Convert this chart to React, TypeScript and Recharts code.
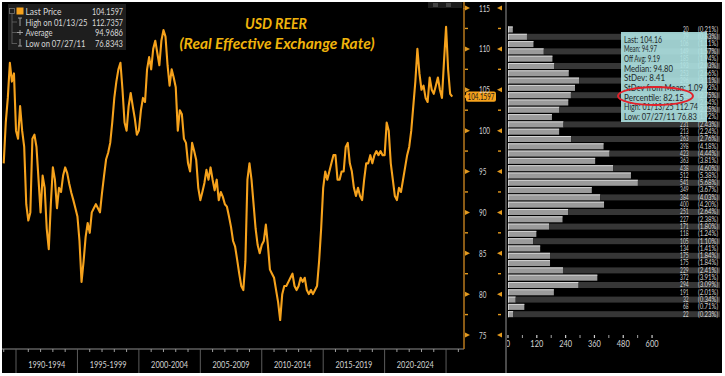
import React from 'react';
import { ComposedChart, Line, XAxis, YAxis, ReferenceLine, BarChart, Bar } from 'recharts';

const FONT = 'Lato, "DejaVu Sans", sans-serif';

// ---------- USD REER series: 6 readings a year (Jan, Mar, May, Jul, Sep, Nov) ----------
const FIRST_YEAR = 1989;
const READINGS_PER_YEAR = 6;
const reer1989to1994 = [
  96, 101, 104, 108.3, 106, 107,
  100, 99, 103, 100, 98, 91,
  89, 90, 99, 99.5, 98, 94,
  90, 94.5, 93, 88, 85.5, 91,
  95.5, 94, 90.5, 93, 92.5, 94.5,
  95.5, 94.8, 93.5, 92.4, 91.5, 90.5,
];
const reer1995to1999 = [
  89.5, 86.5, 81.5, 84, 87, 88.7,
  87.5, 90, 90.5, 91, 90.5, 90,
  92.4, 94.5, 96.5, 97.3, 98.5, 101,
  104, 106, 107.5, 108.3, 105, 101,
  100, 103, 104.6, 103, 101.5, 99.5,
];
const reer2000to2004 = [
  100, 102.5, 104, 103.5, 107.5, 109,
  107.5, 110, 111, 109.5, 108, 111,
  112.3, 111.5, 108, 105.5, 107.5, 106.5,
  105.3, 100, 102.5, 102, 99, 98.5,
  96, 95, 98.5, 97.5, 96.4, 93,
];
const reer2005to2009 = [
  91.5, 92.5, 93.6, 95.2, 94, 95.5,
  94, 92.7, 94, 91.5, 92.5, 91.9,
  91, 90.7, 89.5, 88.2, 86.5, 85.8,
  84.2, 82.5, 81, 80.5, 84, 94,
  96, 94, 91, 88, 86, 85,
];
const reer2010to2014 = [
  86, 86.5, 88.5, 86, 83, 82.5,
  82, 80.5, 79, 76.83, 80, 81,
  81, 81.5, 82, 82.5, 81, 80.5,
  81, 82, 81.5, 82, 80.5, 80,
  80.5, 80, 80.5, 81, 84, 88,
];
const reer2015to2019 = [
  93, 95, 94, 95, 96, 97,
  97, 94, 94, 95, 95, 98,
  98.5, 96, 95, 93, 92, 93,
  92, 91.5, 94, 96, 96, 97,
  96, 97, 97.5, 97, 97.5, 97,
];
const reer2020to2025 = [
  97, 101, 100, 96, 94, 92,
  91.5, 93, 92.5, 94, 95.5, 97,
  98, 100, 103, 106, 110, 107,
  105, 105.5, 104, 103.5, 106.5, 105,
  104.5, 105.5, 106.5, 105, 104, 108.5,
  112.7, 107.5, 104.5, 104.1597,
];
const reerValues = [
  ...reer1989to1994, ...reer1995to1999, ...reer2000to2004, ...reer2005to2009,
  ...reer2010to2014, ...reer2015to2019, ...reer2020to2025,
];
const LAST_PRICE = 104.1597;

// ---------- axis labels ----------
const periodStarts = [1990, 1995, 2000, 2005, 2010, 2015, 2020];
const periodLabels = ['1990-1994', '1995-1999', '2000-2004', '2005-2009', '2010-2014', '2015-2019', '2020-2024'];
const yearTicks = [
  1989, 1990, 1991, 1992, 1993, 1994, 1995, 1996, 1997, 1998, 1999, 2000, 2001, 2002, 2003,
  2004, 2005, 2006, 2007, 2008, 2009, 2010, 2011, 2012, 2013, 2014, 2015, 2016, 2017, 2018,
  2019, 2020, 2021, 2022, 2023, 2024, 2025, 2026,
];
const priceTicks = [75, 77.5, 80, 82.5, 85, 87.5, 90, 92.5, 95, 97.5, 100, 102.5, 105, 107.5, 110, 112.5, 115];
const histTicks = [0, 60, 120, 180, 240, 300, 360, 420, 480, 540, 600];

// ---------- histogram (40 bins, highest price first) ----------
const histCounts = [
  20, 79, 106, 149, 185, 193, 253, 296, 279, 262,
  251, 214, 183, 231, 213, 263, 398, 423, 363, 438,
  512, 541, 349, 384, 400, 251, 227, 171, 118, 105,
  134, 175, 175, 229, 372, 294, 191, 32, 68, 22,
];
const histPcts = [
  '0.21', '0.83', '1.11', '1.57', '1.94', '2.03', '2.66', '3.11', '2.93', '2.75',
  '2.64', '2.25', '1.92', '2.43', '2.24', '2.76', '4.18', '4.44', '3.81', '4.60',
  '5.38', '5.68', '3.67', '4.03', '4.20', '2.64', '2.38', '1.80', '1.24', '1.10',
  '1.41', '1.84', '1.84', '2.41', '3.91', '3.09', '2.01', '0.34', '0.71', '0.23',
];

// ---------- legend & statistics texts ----------
const legendLabels = ['Last Price', 'High on 01/13/25', 'Average', 'Low on 07/27/11'];
const legendValues = ['104.1597', '112.7357', '94.9686', '76.8343'];
const statsLines = [
  'Last: 104.16', 'Mean: 94.97', 'Off Avg: 9.19', 'Median: 94.80', 'StDev: 8.41',
  'StDev from Mean: 1.09', 'Percentile: 82.15', 'High: 01/13/25 112.74', 'Low: 07/27/11 76.83',
];
const titleLines = ['USD REER', '(Real Effective Exchange Rate)'];

// ---------- layout / style constants ----------
const X_DOMAIN: [number, number] = [1988.86, 2026.46];
const Y_DOMAIN: [number, number] = [73.29, 115];
const HIST_MAX = 883;
const LINE_COLOR = '#f6a21c';
const AXIS_ORANGE = '#e39a1f';
const LABEL = '#d2d2d2';
const legendLabelW = [36, 62, 27, 60];
const legendValueW = [31, 31, 28, 28];
const statsW = [38, 33, 36, 49, 41, 79, 60, 74, 73];

const lineData = reerValues.map((v, i) => ({ t: FIRST_YEAR + i / READINGS_PER_YEAR, v }));
const xTicks = [...yearTicks, ...periodStarts.map((s) => s + 2.5)].sort((a, b) => a - b);
const histData = histCounts.map((c, i) => ({
  row: i + 1,
  count: c,
  pct: histPcts[i],
  rest: HIST_MAX - c,
}));

const XTick = (p: any) => {
  const { x, y, payload } = p;
  const v = payload.value;
  if (Number.isInteger(v)) {
    if (v % 5 === 0) return <line x1={x} x2={x} y1={y} y2={y + 26} stroke="#5c5c5c" strokeWidth={1} />;
    return <line x1={x} x2={x} y1={y} y2={y + 3} stroke="#9c9c9c" strokeWidth={1} />;
  }
  const idx = periodStarts.indexOf(v - 2.5);
  return (
    <text x={x} y={y + 19} textAnchor="middle" fill={LABEL} fontSize={10} fontFamily={FONT}
      textLength={37} lengthAdjust="spacingAndGlyphs">{periodLabels[idx]}</text>
  );
};

const YTick = (p: any) => {
  const { x, y, payload } = p;
  const v = payload.value;
  if (v % 5 !== 0) {
    return (
      <g>
        <line x1={x + 1} x2={x + 4} y1={y} y2={y} stroke={AXIS_ORANGE} strokeWidth={1.4} />
        <line x1={x + 34} x2={x + 37} y1={y} y2={y} stroke={AXIS_ORANGE} strokeWidth={1.4} />
      </g>
    );
  }
  const s = String(v);
  return (
    <g>
      <polygon points={`${x + 1},${y - 2.5} ${x + 6},${y} ${x + 1},${y + 2.5}`} fill={AXIS_ORANGE} />
      <text x={x + 15} y={y + 3.6} fill={LABEL} fontSize={10} fontFamily={FONT}
        textLength={s.length === 3 ? 11 : 7.4} lengthAdjust="spacingAndGlyphs">{s}</text>
      <polygon points={`${x + 38},${y - 2.5} ${x + 33},${y} ${x + 38},${y + 2.5}`} fill={AXIS_ORANGE} />
    </g>
  );
};

const HTick = (p: any) => {
  const { x, y, payload } = p;
  const v = payload.value;
  const major = v % 120 === 0;
  const s = String(v);
  return (
    <g>
      <line x1={x} x2={x} y1={y + 17} y2={y + 20} stroke="#cfcfcf" strokeWidth={major ? 1.2 : 0.8} />
      {major && (
        <text x={x} y={y + 29} textAnchor="middle" fill={LABEL} fontSize={10} fontFamily={FONT}
          textLength={s.length * 4.3} lengthAdjust="spacingAndGlyphs">{s}</text>
      )}
    </g>
  );
};

const LastTag = (p: any) => {
  const vb = p.viewBox || {};
  const tx = (vb.x ?? 0) + (vb.width ?? 0) + 2;
  const ty = vb.y ?? 0;
  return (
    <g>
      <polygon points={`${tx - 2},${ty} ${tx + 2},${ty - 4} ${tx + 2},${ty + 4}`} fill={LINE_COLOR} />
      <rect x={tx} y={ty - 5.2} width={30} height={10.4} rx={2} fill={LINE_COLOR} />
      <text x={tx + 15} y={ty + 3.4} textAnchor="middle" fill="#1a1a1a" fontSize={9.5} fontFamily={FONT}
        textLength={27} lengthAdjust="spacingAndGlyphs">{LAST_PRICE.toFixed(4)}</text>
    </g>
  );
};

const CountBar = (p: any) => {
  const { x, y, width, height } = p;
  const w = Math.max(width, 0);
  return (
    <g>
      <rect x={x} y={y} width={w} height={height} fill="#9b9b9b" />
      <line x1={x} x2={x + w} y1={y + 0.5} y2={y + 0.5} stroke="#d4d4d4" strokeWidth={1} />
      <line x1={x + 0.5} x2={x + 0.5} y1={y} y2={y + height} stroke="#cfcfcf" strokeWidth={1} />
    </g>
  );
};

const StripeBar = (p: any) => {
  const { x, y, width, height, payload } = p;
  const right = x + width;
  const cy = y + height / 2 + 2.3;
  const dark = payload.row % 2 === 0;
  const cs = String(payload.count);
  const ps = `(${payload.pct}%)`;
  return (
    <g>
      {dark && <rect x={x} y={y} width={Math.max(width, 0)} height={height} fill="#363636" />}
      <text x={right - 31.5} y={cy} textAnchor="end" fill="#d6d6d6" fontSize={7} fontFamily={FONT}
        textLength={cs.length * 2.8} lengthAdjust="spacingAndGlyphs">{cs}</text>
      <text x={right - 2} y={cy} textAnchor="end" fill="#d6d6d6" fontSize={7} fontFamily={FONT}
        textLength={ps.length * 2.85} lengthAdjust="spacingAndGlyphs">{ps}</text>
    </g>
  );
};

const Txt = (p: any) => (
  <text x={p.x} y={p.y} fontSize={p.size ?? 9.5} fill={p.fill ?? LABEL} textAnchor={p.anchor ?? 'start'}
    fontFamily={FONT} fontWeight={p.weight} fontStyle={p.italic ? 'italic' : undefined}
    textLength={p.w} lengthAdjust="spacingAndGlyphs">{p.children}</text>
);

export default function App() {
  return (
    <div style={{ position: 'absolute', left: 0, top: 0, width: 725, height: 376, background: '#ffffff', overflow: 'hidden' }}>
      <div style={{ position: 'absolute', left: 2, top: 2, width: 720, height: 371, background: '#000000' }} />

      <div style={{ position: 'absolute', left: 0, top: 0 }}>
        <ComposedChart width={505} height={373} data={lineData} margin={{ top: 8, right: 0, left: 2, bottom: 0 }}>
          <XAxis dataKey="t" type="number" domain={X_DOMAIN} ticks={xTicks} interval={0} height={24}
            tickSize={0} tickMargin={0} axisLine={{ stroke: '#8c8c8c' }} tickLine={false}
            tick={(p: any) => <XTick {...p} />} allowDataOverflow />
          <YAxis orientation="right" type="number" domain={Y_DOMAIN} ticks={priceTicks} interval={0} width={41}
            tickSize={0} tickMargin={0} axisLine={{ stroke: '#b8791c', strokeWidth: 1.5 }} tickLine={false}
            tick={(p: any) => <YTick {...p} />} allowDataOverflow />
          <Line dataKey="v" type="linear" stroke={LINE_COLOR} strokeWidth={2.1} strokeLinejoin="round" dot={false} isAnimationActive={false} />
          <ReferenceLine y={LAST_PRICE} stroke="none" label={(p: any) => <LastTag {...p} />} />
        </ComposedChart>
      </div>

      <div style={{ position: 'absolute', left: 505, top: 0 }}>
        <BarChart layout="vertical" width={217} height={373} data={histData}
          margin={{ top: 26, right: 2, left: 3, bottom: 0 }} barCategoryGap={0.5}>
          <XAxis type="number" domain={[0, HIST_MAX]} ticks={histTicks} interval={0} height={55}
            tickSize={0} tickMargin={0} axisLine={false} tickLine={false} tick={(p: any) => <HTick {...p} />} />
          <YAxis type="category" dataKey="row" hide />
          <Bar dataKey="count" stackId="h" isAnimationActive={false} shape={(p: any) => <CountBar {...p} />} />
          <Bar dataKey="rest" stackId="h" isAnimationActive={false} shape={(p: any) => <StripeBar {...p} />} />
        </BarChart>
      </div>

      <svg width={725} height={376} style={{ position: 'absolute', left: 0, top: 0, pointerEvents: 'none' }}>
        {/* separator between price axis and histogram */}
        <line x1={506} x2={506} y1={2} y2={373} stroke="#4a4a4a" strokeWidth={2} />
        <line x1={464} x2={464} y1={2} y2={9} stroke="#b8791c" strokeWidth={1.5} />
        {/* little toolbar icons */}
        <rect x={428} y={2} width={34} height={6} fill="#1c1c1c" />
        <rect x={433} y={3} width={5} height={4} fill="#444" />
        <rect x={446} y={3} width={5} height={4} fill="#444" />

        {/* title */}
        <Txt x={276} y={29} size={15} fill="#f0b40c" anchor="middle" weight="bold" italic w={62}>{titleLines[0]}</Txt>
        <Txt x={277} y={48.5} size={15} fill="#f0b40c" anchor="middle" weight="bold" italic w={195}>{titleLines[1]}</Txt>

        {/* legend */}
        <rect x={8} y={4} width={118} height={46} fill="#1e1e1e" />
        <rect x={9.5} y={8.5} width={5} height={5} fill="none" stroke="#777" strokeWidth={0.8} />
        <line x1={12} x2={12} y1={13.5} y2={44} stroke="#666" strokeWidth={0.8} />
        <line x1={12} x2={17} y1={22} y2={22} stroke="#666" strokeWidth={0.8} />
        <line x1={12} x2={17} y1={32.5} y2={32.5} stroke="#666" strokeWidth={0.8} />
        <line x1={12} x2={17} y1={43.5} y2={43.5} stroke="#666" strokeWidth={0.8} />
        <rect x={16.5} y={7.5} width={7} height={7} fill={LINE_COLOR} />
        <line x1={20} x2={20} y1={18} y2={26} stroke="#aaa" strokeWidth={0.9} />
        <line x1={18} x2={22} y1={18} y2={18} stroke="#aaa" strokeWidth={0.9} />
        <line x1={17} x2={23} y1={32.5} y2={32.5} stroke="#aaa" strokeWidth={0.9} />
        <line x1={20} x2={20} y1={30} y2={35} stroke="#aaa" strokeWidth={0.9} />
        <line x1={20} x2={20} y1={39} y2={46} stroke="#aaa" strokeWidth={0.9} />
        <line x1={18} x2={22} y1={46} y2={46} stroke="#aaa" strokeWidth={0.9} />
        {legendLabels.map((s, i) => (
          <Txt key={'ll' + i} x={25.5} y={15 + i * 10.6} w={legendLabelW[i]} fill="#d8d8d8">{s}</Txt>
        ))}
        {legendValues.map((s, i) => (
          <Txt key={'lv' + i} x={123} y={15 + i * 10.6} w={legendValueW[i]} anchor="end" fill="#d8d8d8">{s}</Txt>
        ))}

        {/* statistics box */}
        <rect x={621} y={32} width={86} height={90} fill="#aee2e2" fillOpacity={0.9} />
        {statsLines.map((s, i) => (
          <Txt key={'st' + i} x={624} y={42.5 + i * 9.7} size={9} w={statsW[i]} fill="#1f2b2b">{s}</Txt>
        ))}
        <ellipse cx={655.5} cy={96} rx={37.5} ry={9} fill="none" stroke="#e3202a" strokeWidth={2} />
      </svg>
    </div>
  );
}
